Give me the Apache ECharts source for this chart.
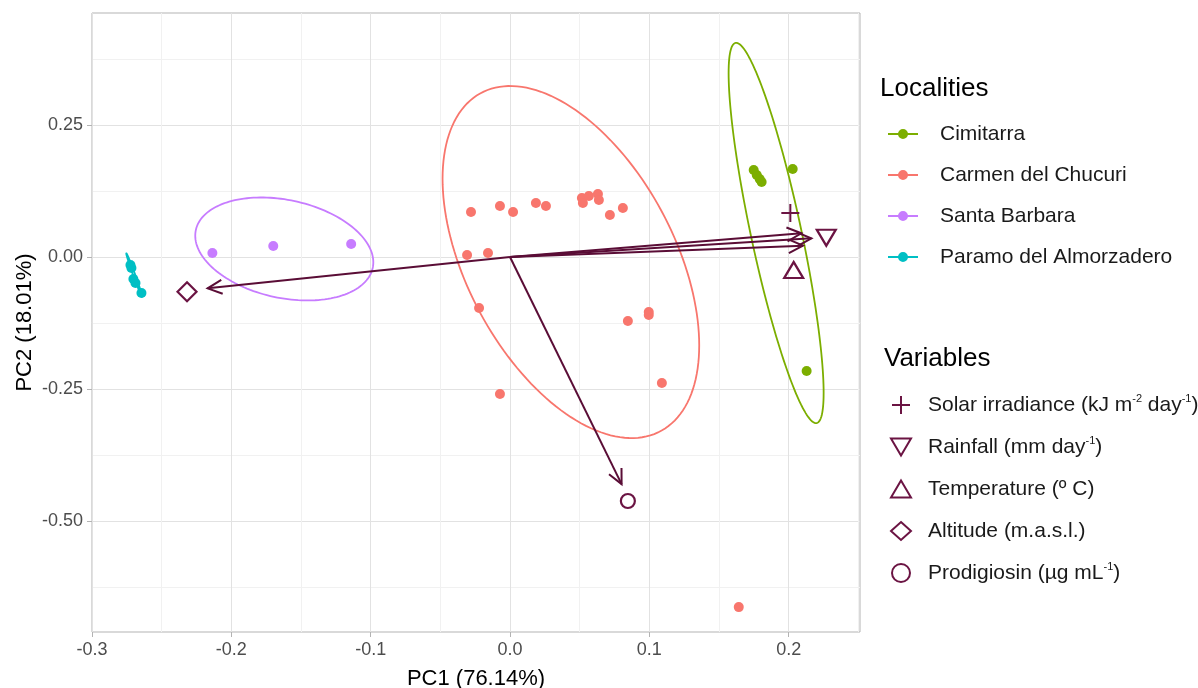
<!DOCTYPE html>
<html>
<head>
<meta charset="utf-8">
<script src="https://cdn.jsdelivr.net/npm/echarts@6/dist/echarts.min.js"></script>
<style>
html, body { margin: 0; padding: 0; background: #fff; }
#pca { width: 1198px; height: 688px; }
</style>
</head>
<body>
<div id="pca"></div>
<script>
var myChart = echarts.init(document.getElementById('pca'));

// axis ticks
var xTicks = [-0.3, -0.2, -0.1, 0.0, 0.1, 0.2];
var yTicks = [-0.5, -0.25, 0, 0.25];
var xMinor = [-0.25, -0.15, -0.05, 0.05, 0.15, 0.25];
var yMinor = [-0.625, -0.375, -0.125, 0.125, 0.375];

// scores per locality [PC1, PC2]
var localities = ['Cimitarra', 'Carmen del Chucuri', 'Santa Barbara', 'Paramo del Almorzadero'];
var cimitarra = [[0.1749, 0.1648], [0.1771, 0.1553], [0.1792, 0.1477], [0.1806, 0.1420], [0.2029, 0.1667], [0.2129, -0.2159]];
var carmen = [
    [-0.0280, 0.0852], [-0.0072, 0.0966], [0.0022, 0.0852], [0.0186, 0.1023], [0.0258, 0.0966],
    [0.0516, 0.1117], [0.0523, 0.1023], [0.0566, 0.1155], [0.0631, 0.1193], [0.0638, 0.1080],
    [0.0717, 0.0795], [0.0810, 0.0928], [-0.0308, 0.0038], [-0.0158, 0.0076], [-0.0222, -0.0966],
    [-0.0072, -0.2595], [0.0846, -0.1212], [0.0996, -0.1042], [0.0996, -0.1098], [0.1090, -0.2386],
    [0.1642, -0.6629]
];
var santaBarbara = [[-0.2136, 0.0076], [-0.1699, 0.0208], [-0.1140, 0.0246]];
var paramo = [[-0.2724, -0.0152], [-0.2717, -0.0208], [-0.2703, -0.0417], [-0.2688, -0.0492], [-0.2645, -0.0682]];

// ellipses [centre x, centre y, half width x, half height y, correlation]
var ellCimitarra = [0.1910, 0.0455, 0.0341, 0.360, -0.84];
var ellCarmen = [0.0437, -0.0095, 0.0921, 0.3333, -0.473];
var ellSantaBarbara = [-0.1620, 0.0152, 0.0639, 0.0975, -0.258];
var ellParamo = [-0.2697, -0.0341, 0.0057, 0.0411, -0.99];

// variables: arrow tips and marker positions
var variables = ['Solar irradiance (kJ m-2 day-1)', 'Rainfall (mm day-1)', 'Temperature (º C)', 'Altitude (m.a.s.l.)', 'Prodigiosin (µg mL-1)'];
var arrowTips = [[0.2091, 0.0449], [0.2163, 0.0354], [0.2103, 0.0214], [-0.2170, -0.0593], [0.0801, -0.4300]];
var varMarkers = [[0.2012, 0.0833], [0.2270, 0.0366], [0.2036, -0.0246], [-0.2318, -0.0657], [0.0846, -0.4620]];

var cs = ['#7CAE00', '#F8766D', '#C77CFF', '#00BFC4'];
var varColor = '#6b1443';
var arrowColor = '#5a0d36';
var font = 'Liberation Sans, Arial, sans-serif';

var richLabels = {
    'Solar irradiance (kJ m-2 day-1)': '{t|Solar irradiance (kJ m}{s|-2}{t| day}{s|-1}{t|)}',
    'Rainfall (mm day-1)': '{t|Rainfall (mm day}{s|-1}{t|)}',
    'Temperature (º C)': '{t|Temperature (º C)}',
    'Altitude (m.a.s.l.)': '{t|Altitude (m.a.s.l.)}',
    'Prodigiosin (µg mL-1)': '{t|Prodigiosin (µg mL}{s|-1}{t|)}'
};

var varSymbols = [
    'path://M8,0 L10,0 L10,8 L18,8 L18,10 L10,10 L10,18 L8,18 L8,10 L0,10 L0,8 L8,8 Z',
    'path://M0,0 L20,0 L10,17 Z',
    'path://M10,0 L20,17 L0,17 Z',
    'diamond',
    'circle'
];
var varSizes = [[18, 18], [19, 16], [19, 16], [19, 19], [14, 14]];

function renderEllipse(params, api) {
    var cx = api.value(0), cy = api.value(1), rx = api.value(2), ry = api.value(3), r = api.value(4);
    var s = Math.sqrt(1 - r * r);
    var pts = [];
    for (var i = 0; i <= 160; i++) {
        var t = i / 160 * Math.PI * 2;
        pts.push(api.coord([cx + rx * Math.cos(t), cy + ry * (r * Math.cos(t) + s * Math.sin(t))]));
    }
    return {
        type: 'polyline',
        shape: { points: pts },
        style: { stroke: api.visual('color'), fill: 'none', lineWidth: 1.8 }
    };
}

function renderArrow(params, api) {
    var o = api.coord([0, 0]);
    var p = api.coord([api.value(0), api.value(1)]);
    var ang = Math.atan2(p[1] - o[1], p[0] - o[0]);
    var L = 16, phi = 0.45;
    var a1 = [p[0] - L * Math.cos(ang - phi), p[1] - L * Math.sin(ang - phi)];
    var a2 = [p[0] - L * Math.cos(ang + phi), p[1] - L * Math.sin(ang + phi)];
    return {
        type: 'group',
        children: [
            { type: 'line', shape: { x1: o[0], y1: o[1], x2: p[0], y2: p[1] }, style: { stroke: arrowColor, lineWidth: 2 } },
            { type: 'polyline', shape: { points: [a1, p, a2] }, style: { stroke: arrowColor, lineWidth: 2, fill: 'none' } }
        ]
    };
}

var localityPath = 'path://M0,4.1 L30,4.1 L30,5.9 L0,5.9 Z M15,0 A5,5 0 1 1 14.99,0 Z';

var option = {
    animation: false,
    backgroundColor: '#fff',
    textStyle: { fontFamily: font },
    title: [
        { text: 'Localities', left: 880, top: 76, padding: 0, textStyle: { fontSize: 26, fontWeight: 'normal', color: '#000', fontFamily: font } },
        { text: 'Variables', left: 884, top: 346, padding: 0, textStyle: { fontSize: 26, fontWeight: 'normal', color: '#000', fontFamily: font } }
    ],
    legend: [
        {
            orient: 'vertical',
            left: 888,
            top: 122,
            padding: 0,
            itemWidth: 30,
            itemHeight: 10,
            itemGap: 17,
            selectedMode: false,
            textStyle: { fontSize: 21, lineHeight: 24, color: '#1a1a1a', padding: [0, 0, 0, 17], fontFamily: font },
            data: localities.map(function (n, i) {
                return { name: n, icon: localityPath, itemStyle: { color: cs[i] } };
            })
        },
        {
            orient: 'vertical',
            left: 890,
            top: 393,
            padding: 0,
            itemWidth: 20,
            itemHeight: 18,
            itemGap: 18,
            selectedMode: false,
            textStyle: {
                fontSize: 21, lineHeight: 24, color: '#1a1a1a', padding: [0, 0, 0, 12], fontFamily: font,
                rich: {
                    t: { fontSize: 21, lineHeight: 24, color: '#1a1a1a', fontFamily: font },
                    s: { fontSize: 11, lineHeight: 24, verticalAlign: 'top', color: '#1a1a1a', fontFamily: font, padding: [0, 0, 10, 0] }
                }
            },
            formatter: function (name) { return richLabels[name]; },
            data: variables
        }
    ],
    grid: {
        left: 92,
        right: 338,
        top: 13,
        bottom: 56,
        outerBoundsMode: 'none',
        containLabel: false,
        show: true,
        borderColor: '#b3b3b3',
        borderWidth: 1
    },
    xAxis: [
        {
            type: 'value',
            min: -0.3,
            max: 0.2512,
            axisLine: { show: false, onZero: false },
            axisTick: { show: true, customValues: xTicks, length: 5, lineStyle: { color: '#b3b3b3' } },
            axisLabel: {
                customValues: xTicks, color: '#4d4d4d', fontSize: 18, margin: 9, fontFamily: font,
                formatter: function (v) { return v.toFixed(1); }
            },
            splitLine: { show: true, lineStyle: { color: '#e2e2e2', width: 1 } },
            name: 'PC1 (76.14%)',
            nameLocation: 'middle',
            nameGap: 36,
            nameMoveOverlap: false,
            nameTextStyle: { fontSize: 22, color: '#000', fontFamily: font }
        },
        {
            type: 'value',
            min: -0.3,
            max: 0.2512,
            axisLine: { show: false, onZero: false },
            axisTick: { show: false, customValues: xMinor },
            axisLabel: { show: false },
            splitLine: { show: true, lineStyle: { color: '#f1f1f1', width: 1 } }
        }
    ],
    yAxis: [
        {
            type: 'value',
            min: -0.710,
            max: 0.462,
            axisLine: { show: false, onZero: false },
            axisTick: { show: true, customValues: yTicks, length: 5, lineStyle: { color: '#b3b3b3' } },
            axisLabel: {
                customValues: yTicks, color: '#4d4d4d', fontSize: 18, margin: 9, fontFamily: font,
                formatter: function (v) { return v.toFixed(2); }
            },
            splitLine: { show: true, lineStyle: { color: '#e2e2e2', width: 1 } },
            name: 'PC2 (18.01%)',
            nameLocation: 'middle',
            nameGap: 56,
            nameMoveOverlap: false,
            nameTextStyle: { fontSize: 22, color: '#000', fontFamily: font }
        },
        {
            type: 'value',
            min: -0.710,
            max: 0.462,
            axisLine: { show: false, onZero: false },
            axisTick: { show: false, customValues: yMinor },
            axisLabel: { show: false },
            splitLine: { show: true, lineStyle: { color: '#f1f1f1', width: 1 } }
        }
    ],
    series: []
};

var groups = [cimitarra, carmen, santaBarbara, paramo];
var ells = [ellCimitarra, ellCarmen, ellSantaBarbara, ellParamo];

for (var i = 0; i < localities.length; i++) {
    option.series.push({
        name: localities[i],
        type: 'scatter',
        symbol: 'circle',
        symbolSize: 10,
        itemStyle: { color: cs[i], opacity: 1 },
        data: groups[i],
        z: 3
    });
}
for (var i = 0; i < localities.length; i++) {
    option.series.push({
        name: localities[i],
        type: 'custom',
        renderItem: renderEllipse,
        encode: { x: 0, y: 1 },
        itemStyle: { color: cs[i] },
        data: [ells[i]],
        z: 4
    });
}

option.series.push({
    name: 'arrows',
    type: 'custom',
    renderItem: renderArrow,
    encode: { x: 0, y: 1 },
    data: arrowTips,
    z: 5
});

for (var i = 0; i < variables.length; i++) {
    var filled = i === 0;
    option.series.push({
        name: variables[i],
        type: 'scatter',
        symbol: varSymbols[i],
        symbolSize: varSizes[i],
        itemStyle: filled
            ? { color: varColor, borderWidth: 0, opacity: 1 }
            : { color: 'rgba(0,0,0,0)', borderColor: varColor, borderWidth: 2.2, opacity: 1 },
        data: [varMarkers[i]],
        z: 6
    });
}

myChart.setOption(option);
</script>
</body>
</html>
